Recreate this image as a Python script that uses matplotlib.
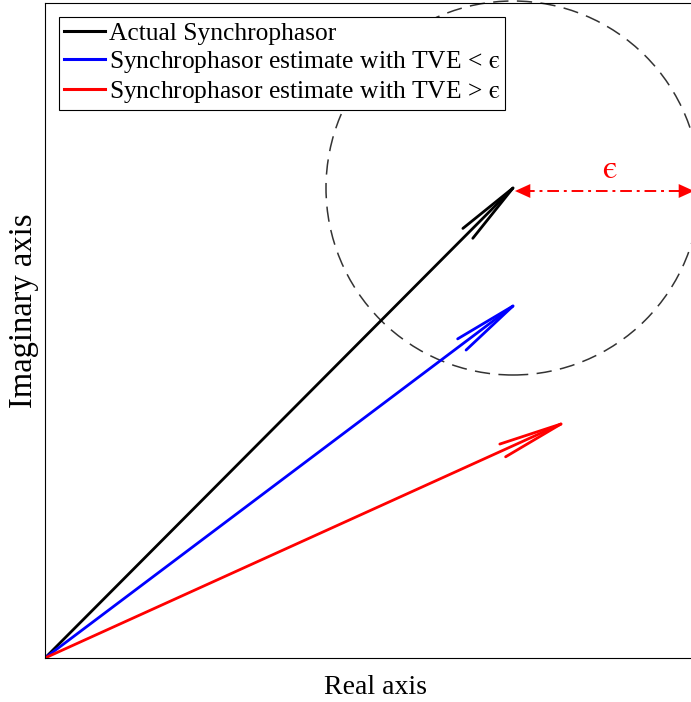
import matplotlib
matplotlib.use("Agg")
import numpy as np
import matplotlib.pyplot as plt
from matplotlib.lines import Line2D
from matplotlib.patches import Circle

plt.rcParams["font.family"] = ["Liberation Serif", "DejaVu Serif"]
plt.rcParams["mathtext.fontset"] = "stix"

EPS = "$\\mathrm{\u03f5}$"

# phasor tips (real, imaginary), all starting at the origin
LABELS = [
    "Actual Synchrophasor",
    "Synchrophasor estimate with TVE < " + EPS,
    "Synchrophasor estimate with TVE > " + EPS,
]
COLORS = ["black", "blue", "red"]
TIPS_RE = [4.68, 4.68, 5.16]
TIPS_IM = [4.70, 3.52, 2.34]

# TVE circle around the actual phasor
EPS_RADIUS = 1.87
X_MAX = 6.60
Y_MAX = 6.55

HEAD_LEN_PX = 64
HEAD_HALF_PX = 7


def draw_phasor(ax, re, im, color):
    ax.plot([0, re], [0, im], color=color, lw=2.0, solid_capstyle="butt")
    # open arrow head, built in pixel space so it keeps its shape
    tip = ax.transData.transform((re, im))
    base = ax.transData.transform((0, 0))
    d = (tip - base) / np.hypot(*(tip - base))
    n = np.array([-d[1], d[0]])
    inv = ax.transData.inverted()
    for side in (1, -1):
        end = tip - HEAD_LEN_PX * d + side * HEAD_HALF_PX * n
        p0 = inv.transform(tip)
        p1 = inv.transform(end)
        ax.plot([p0[0], p1[0]], [p0[1], p1[1]], color=color, lw=2.0,
                solid_capstyle="round")


def main():
    fig = plt.figure(figsize=(6.91, 7.02), dpi=100)
    ax = fig.add_axes([45 / 691, 44 / 702, (705 - 45) / 691, 655 / 702])
    ax.set_xlim(0, X_MAX)
    ax.set_ylim(0, Y_MAX)

    for re, im, color in zip(TIPS_RE, TIPS_IM, COLORS):
        draw_phasor(ax, re, im, color)

    cx, cy = TIPS_RE[0], TIPS_IM[0]
    ax.add_patch(Circle((cx, cy), EPS_RADIUS, fill=False, ec="#333333",
                        lw=1.1, ls=(0, (10, 5.5)), clip_on=False, zorder=1))

    # epsilon radius marker
    ey = cy - 0.03
    ax.plot([cx + 0.1, cx + EPS_RADIUS - 0.1], [ey, ey],
            color="red", lw=1.4, ls=(0, (6, 2.5, 1.5, 2.5)))
    for x0, x1 in [(cx + 0.3, cx + 0.02), (cx + EPS_RADIUS - 0.4, cx + EPS_RADIUS - 0.06)]:
        ax.annotate(
            "",
            xy=(x1, ey),
            xytext=(x0, ey),
            arrowprops=dict(
                arrowstyle="-|>,head_length=0.55,head_width=0.25",
                mutation_scale=20,
                color="red",
                lw=0.01,
                shrinkA=0,
                shrinkB=0,
            ),
        )
    ax.text(cx + 0.97, cy + 0.18, EPS, color="red",
            fontsize=24, ha="center", va="center")

    ax.set_xticks([])
    ax.set_yticks([])
    ax.spines["right"].set_visible(False)
    for s in ["left", "bottom", "top"]:
        ax.spines[s].set_linewidth(0.8)

    ax.set_xlabel("Real axis", fontsize=20, labelpad=12)
    ax.set_ylabel("Imaginary axis", fontsize=23.5)
    ax.yaxis.set_label_coords(-0.009, 0.53)

    handles = [Line2D([], [], color=c, lw=2.2) for c in COLORS]
    leg = ax.legend(handles, LABELS, loc="upper left", fontsize=18.4,
                    fancybox=False, edgecolor="black", framealpha=1,
                    handlelength=1.6, handletextpad=0.15, labelspacing=0.15,
                    borderpad=0.2, borderaxespad=0.55)
    leg.get_frame().set_linewidth(0.8)
    leg.set_zorder(5)

    fig.savefig("out.png", dpi=100)
    plt.close(fig)


if __name__ == "__main__":
    main()
